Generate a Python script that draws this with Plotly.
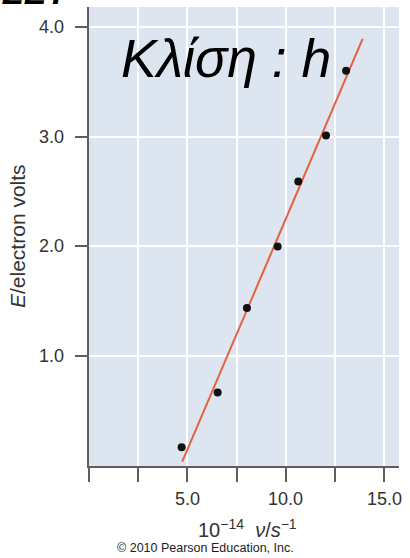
import plotly.graph_objects as go

# Photoelectric effect: stopping energy vs. frequency
nu = [4.71, 6.54, 8.03, 9.59, 10.64, 12.05, 13.07]        # 10^14 s^-1
energy = [0.17, 0.67, 1.44, 2.00, 2.59, 3.01, 3.60]        # eV

# best-fit line end points
fit_nu = [4.74, 13.91]
fit_energy = [0.04, 3.89]

x_tickvals = [5.0, 10.0, 15.0]
x_ticktext = ["5.0", "10.0", "15.0"]
x_minor_step = 2.5
y_tickvals = [1.0, 2.0, 3.0, 4.0]
y_ticktext = ["1.0", "2.0", "3.0", "4.0"]

W, H = 410, 558
L, R, T, B = 89, 11, 7, 92

axis_col = "#5e5e5e"
label_col = "#333333"
font_fam = "Liberation Sans, Arial, sans-serif"

fig = go.Figure()
fig.add_trace(go.Scatter(x=fit_nu, y=fit_energy, mode="lines",
                         line=dict(color="#e5603e", width=2), hoverinfo="skip"))
fig.add_trace(go.Scatter(x=nu, y=energy, mode="markers",
                         marker=dict(color="#111111", size=8)))


def px(X):
    return (X - L) / (W - L - R)


def py(Y):
    return (H - B - Y) / (H - T - B)


fig.update_layout(
    width=W, height=H,
    margin=dict(l=L, r=R, t=T, b=B, pad=0),
    paper_bgcolor="white",
    plot_bgcolor="#dde5f1",
    showlegend=False,
    font=dict(family=font_fam, color=label_col, size=18),
    xaxis=dict(range=[0, 15.76], tickvals=x_tickvals, showticklabels=False,
               showgrid=True, gridcolor="white", gridwidth=2, zeroline=False,
               showline=True, linecolor=axis_col, linewidth=2,
               ticks="outside", ticklen=14, tickwidth=2, tickcolor=axis_col,
               minor=dict(tick0=0, dtick=x_minor_step, ticks="outside", ticklen=14,
                          tickwidth=2, tickcolor=axis_col, showgrid=True,
                          gridcolor="white", gridwidth=2)),
    yaxis=dict(range=[0, 4.18], tickvals=y_tickvals, showticklabels=False,
               showgrid=True, gridcolor="white", gridwidth=2, zeroline=False,
               showline=True, linecolor=axis_col, linewidth=2,
               ticks="outside", ticklen=12, tickwidth=2, tickcolor=axis_col),
)

annotations = []
# tick labels, set a little further from the tick marks
for v, t in zip(x_tickvals, x_ticktext):
    annotations.append(dict(x=v, xref="x", y=py(499), yref="paper", text=t,
                            font=dict(size=18, color=label_col),
                            xanchor="center", yanchor="middle"))
for v, t in zip(y_tickvals, y_ticktext):
    annotations.append(dict(x=px(66), xref="paper", y=v, yref="y", text=t,
                            font=dict(size=18, color=label_col),
                            xanchor="right", yanchor="middle"))

annotations += [
    # slope label
    dict(x=px(226), y=py(59), xref="paper", yref="paper", text="<i>Κλίση : h</i>",
         font=dict(size=53.5, color="black"), xanchor="center", yanchor="middle"),
    # y axis title
    dict(x=px(17), y=py(236), xref="paper", yref="paper", text="<i>E</i>/electron volts",
         textangle=-90, font=dict(size=21, color=label_col),
         xanchor="center", yanchor="middle"),
    # x axis title
    dict(x=px(247), y=py(528), xref="paper", yref="paper",
         text="10<sup>−14</sup>  <i>ν</i>/<i>s</i><sup>−1</sup>",
         font=dict(size=20, color=label_col), xanchor="center", yanchor="middle"),
    # credit line
    dict(x=px(205), y=py(548), xref="paper", yref="paper",
         text="© 2010 Pearson Education, Inc.",
         font=dict(size=12.5, color="#222222"), xanchor="center", yanchor="middle"),
    # heading partly above the page edge
    dict(x=px(0), y=py(13), xref="paper", yref="paper", text="<b><i>ΖΕΤ</i></b>",
         font=dict(size=34, color="black"), xanchor="left", yanchor="bottom"),
]
for a in annotations:
    a.update(showarrow=False)
fig.update_layout(annotations=annotations)

fig.write_html("out.html")
